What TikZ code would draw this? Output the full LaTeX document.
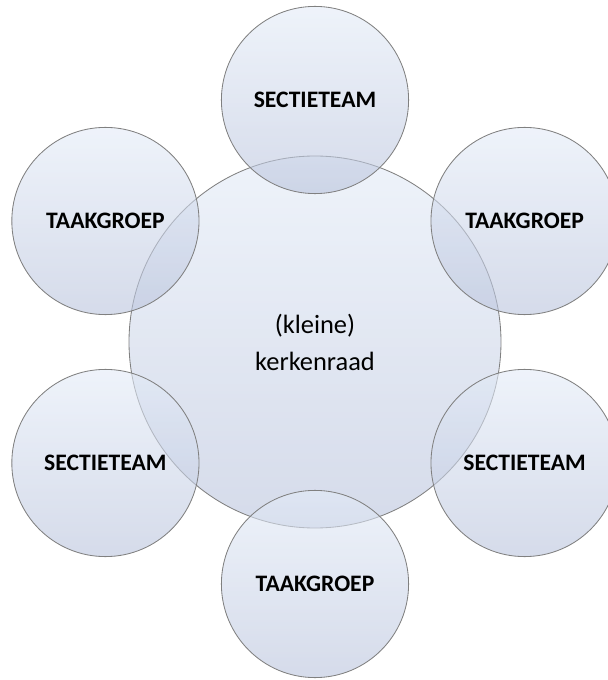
\documentclass[tikz,border=0pt]{standalone}
\usepackage{fontspec}
\setmainfont{Carlito}
\usetikzlibrary{positioning}
\definecolor{rondtop}{RGB}{227,235,247}
\definecolor{rondbodem}{RGB}{185,195,220}
\definecolor{rondrand}{RGB}{128,128,128}

\begin{document}
\begin{tikzpicture}[
	rond/.style={circle, draw=rondrand, line width=0.6pt, top color=rondtop, bottom color=rondbodem, fill opacity=0.6, text opacity=1, align=center},
	groot/.style={rond, minimum size=9.3cm, font=\fontsize{18.8}{26.3}\selectfont},
	klein/.style={rond, minimum size=4.68cm, font=\bfseries\fontsize{16.8}{20}\selectfont}]
		\useasboundingbox (-7.875,-8.45) rectangle (7.3,8.55);
		
		%middle circle
		\node[groot] (raad) at (0,0) {(kleine)\\kerkenraad};
		
		%circles round it
		\foreach \hoek/\tekst/\naam in {90/SECTIETEAM/sectieboven, 150/TAAKGROEP/taaklinks, 30/TAAKGROEP/taakrechts, 210/SECTIETEAM/sectielinks, 330/SECTIETEAM/sectierechts, 270/TAAKGROEP/taakonder}
		\node[klein] (\naam) at (\hoek:6.05) {\tekst};
\end{tikzpicture}
\end{document}
